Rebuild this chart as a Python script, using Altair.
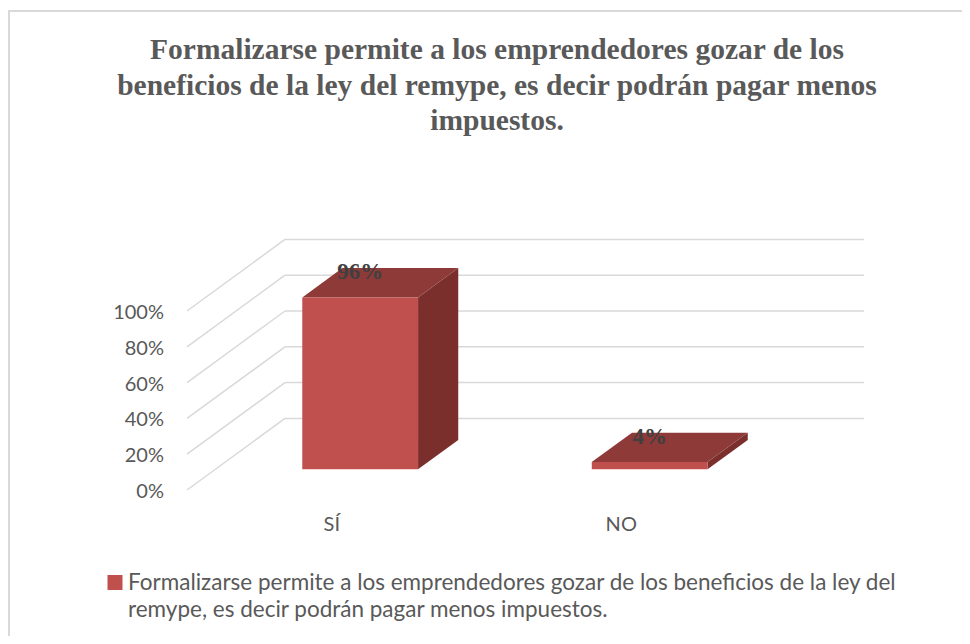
import altair as alt
import pandas as pd

# ---------------- data ----------------
CATEGORIES = ["SÍ", "NO"]
VALUES = [96, 4]
VALUE_LABELS = ["96%", "4%"]
Y_TICKS = [0, 20, 40, 60, 80, 100]
Y_TICK_LABELS = ["0%", "20%", "40%", "60%", "80%", "100%"]
TITLE_LINES = [
    "Formalizarse permite a los emprendedores gozar de los",
    "beneficios de la ley del remype, es decir podrán pagar menos",
    "impuestos.",
]
SERIES_LINES = [
    "Formalizarse permite a los emprendedores gozar de los beneficios de la ley del",
    "remype, es decir podrán pagar menos impuestos.",
]
SERIES = " ".join(SERIES_LINES)

# ---------------- 3D styling ----------------
WALL_DX = 0.3385   # depth shift of back wall, in category units
WALL_DY = 40.0     # depth shift of back wall, in value units
F_FRONT = 0.29     # bar front position within depth
F_BACK = 0.70      # bar back position within depth
HALF_W = 0.2       # half bar width, category units

C_FRONT = "#C0504D"
C_TOP = "#8E3A38"
C_SIDE = "#7B2F2D"
GRID = "#D9D9D9"
TXT = "#595959"

xs = alt.Scale(domain=[0, 2], range=[179, 758], nice=False, zero=False)
ys = alt.Scale(domain=[0, 100], range=[482, 303], nice=False, zero=False)

# grid: back wall horizontals and left diagonals
grid_rows = []
for t in Y_TICKS:
    grid_rows.append(dict(x=WALL_DX, x2=2 + WALL_DX, y=t + WALL_DY, y2=t + WALL_DY))
    grid_rows.append(dict(x=0, x2=WALL_DX, y=t, y2=t + WALL_DY))
grid_df = pd.DataFrame(grid_rows)

front_rows, top_rows, side_rows, lab_rows = [], [], [], []
for i, (c, v, lab) in enumerate(zip(CATEGORIES, VALUES, VALUE_LABELS)):
    cx = i + 0.5
    front_rows.append(dict(cat=c, series=SERIES,
                           x=cx - HALF_W + F_FRONT * WALL_DX,
                           x2=cx + HALF_W + F_FRONT * WALL_DX,
                           y=F_FRONT * WALL_DY, y2=v + F_FRONT * WALL_DY))
    for f in (F_FRONT, F_BACK):
        top_rows.append(dict(cat=c, y=v + f * WALL_DY,
                             x=cx - HALF_W + f * WALL_DX,
                             x2=cx + HALF_W + f * WALL_DX))
        side_rows.append(dict(cat=c, x=cx + HALF_W + f * WALL_DX,
                              y=f * WALL_DY, y2=v + f * WALL_DY))
    lab_rows.append(dict(cat=c, label=lab, x=cx + F_FRONT * WALL_DX,
                         y=v + F_FRONT * WALL_DY, cx=cx))
front_df = pd.DataFrame(front_rows)
top_df = pd.DataFrame(top_rows)
side_df = pd.DataFrame(side_rows)
lab_df = pd.DataFrame(lab_rows)

tick_df = pd.DataFrame(dict(t=Y_TICKS, label=Y_TICK_LABELS))

grid = alt.Chart(grid_df).mark_rule(color=GRID, strokeWidth=1.5).encode(
    x=alt.X("x:Q", scale=xs, axis=None), x2="x2:Q",
    y=alt.Y("y:Q", scale=ys, axis=None), y2="y2:Q")

side = alt.Chart(side_df).mark_area(color=C_SIDE, opacity=1).encode(
    x=alt.X("x:Q", scale=xs, axis=None),
    y=alt.Y("y:Q", scale=ys, axis=None, stack=None), y2="y2:Q",
    detail="cat:N")

top = alt.Chart(top_df).mark_area(color=C_TOP, orient="horizontal", opacity=1).encode(
    y=alt.Y("y:Q", scale=ys, axis=None),
    x=alt.X("x:Q", scale=xs, axis=None, stack=None), x2="x2:Q",
    detail="cat:N")

front = alt.Chart(front_df).mark_rect().encode(
    x=alt.X("x:Q", scale=xs, axis=None), x2="x2:Q",
    y=alt.Y("y:Q", scale=ys, axis=None), y2="y2:Q",
    color=alt.Color("series:N", scale=alt.Scale(domain=[SERIES], range=[C_FRONT]), legend=None))

ytext = alt.Chart(tick_df).mark_text(
    align="right", baseline="middle", dx=-23, dy=2, font="Lato", fontSize=20, color=TXT).encode(
    x=alt.X("x:Q", scale=xs, axis=None), y=alt.Y("t:Q", scale=ys, axis=None), text="label:N"
).transform_calculate(x="0")

cattext = alt.Chart(lab_df).mark_text(
    align="center", baseline="middle", dy=35, font="Lato", fontSize=20, color=TXT).encode(
    x=alt.X("cx:Q", scale=xs, axis=None), y=alt.Y("y0:Q", scale=ys, axis=None), text="cat:N"
).transform_calculate(y0="0")

vallabels = alt.Chart(lab_df).mark_text(
    align="center", baseline="middle", dy=-25, font="Liberation Serif", fontWeight="bold",
    fontSize=23, color="#404040").encode(
    x=alt.X("x:Q", scale=xs, axis=None), y=alt.Y("y:Q", scale=ys, axis=None), text="label:N")

title_df = pd.DataFrame(dict(text=["\n".join(TITLE_LINES)]))
title = alt.Chart(title_df).mark_text(
    align="center", baseline="alphabetic", lineBreak="\n", lineHeight=35.5,
    font="Liberation Serif", fontWeight="bold", fontSize=29.5, color=TXT).encode(
    x=alt.value(489), y=alt.value(51), text="text:N")

leg_df = pd.DataFrame(dict(text=["\n".join(SERIES_LINES)], series=[SERIES]))
leg_sym = alt.Chart(leg_df).mark_square(size=225, opacity=1).encode(
    x=alt.value(107), y=alt.value(574.5),
    color=alt.Color("series:N", scale=alt.Scale(domain=[SERIES], range=[C_FRONT]), legend=None))
leg_txt = alt.Chart(leg_df).mark_text(
    align="left", baseline="alphabetic", lineBreak="\n", lineHeight=27,
    font="Lato", fontSize=22.5, color=TXT).encode(
    x=alt.value(120), y=alt.value(582), text="text:N")

border = alt.Chart(pd.DataFrame(dict(a=[0]))).mark_rule(color=GRID, strokeWidth=2).encode(
    x=alt.value(1), y=alt.value(3), y2=alt.value(628))
border_top = alt.Chart(pd.DataFrame(dict(a=[0]))).mark_rule(color=GRID, strokeWidth=2).encode(
    x=alt.value(0), x2=alt.value(954), y=alt.value(3))

chart = alt.layer(
    border, border_top, grid, side, top, front, ytext, cattext, vallabels,
    title, leg_sym, leg_txt
).properties(
    width=954, height=628, autosize="none", padding=0, background="white"
).configure_view(stroke=None)

chart.save("out.html", embed_options={"renderer": "svg", "actions": False})
